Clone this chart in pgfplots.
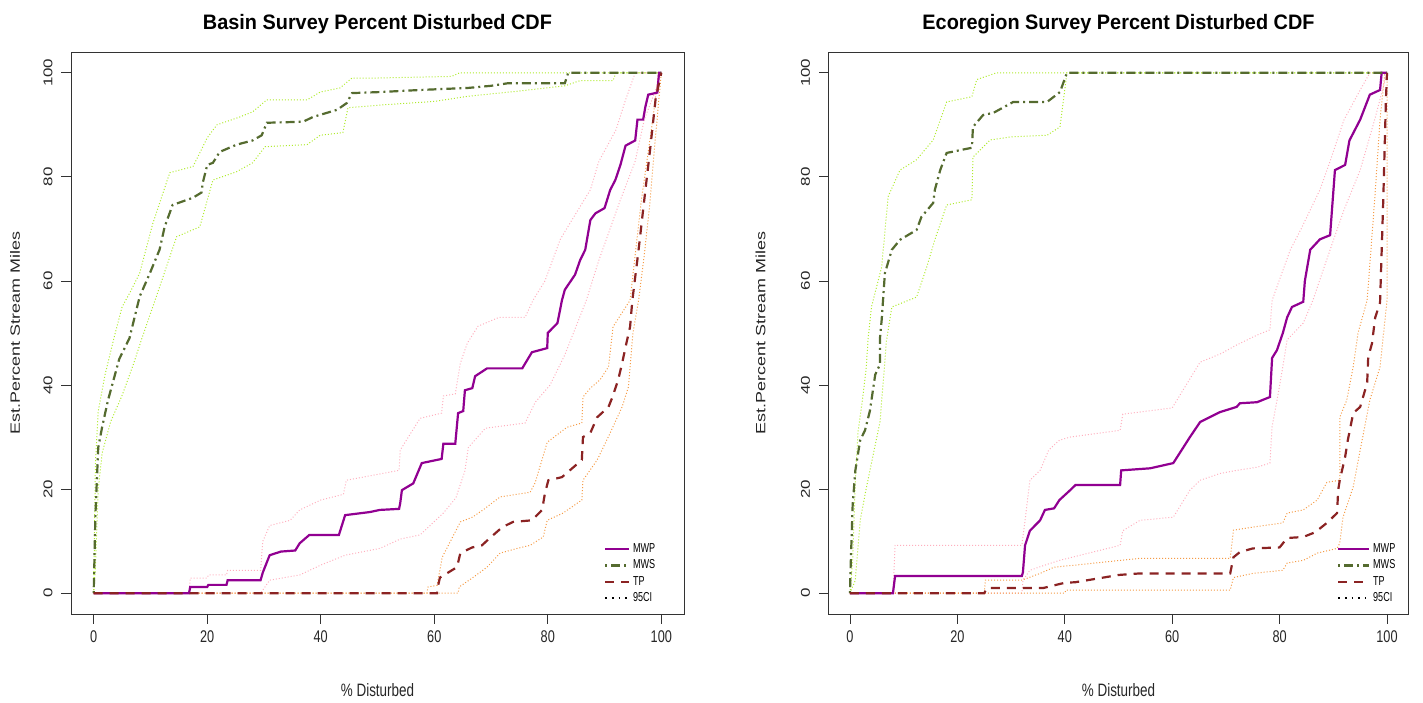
\documentclass[border=0pt]{standalone}
\usepackage{fontspec}
\setmainfont{Liberation Sans}
\usepackage{graphicx}
\usepackage{pgfplots}
\pgfplotsset{compat=1.18}
\usetikzlibrary{calc}

\definecolor{mwp}{RGB}{145,0,145}
\definecolor{mws}{RGB}{85,107,47}
\definecolor{tp}{RGB}{139,35,35}
\definecolor{mwsci}{RGB}{175,235,45}
\definecolor{mwpci}{RGB}{255,175,190}
\definecolor{tpci}{RGB}{245,155,70}

\newcommand\sq[1]{\scalebox{0.75}[1]{#1}}
\newcommand\sqv[1]{\scalebox{1}[0.75]{#1}}
\newcommand\lsq[1]{\scalebox{0.7}[1]{#1}}

\pgfplotsset{
 cdfaxis/.style={
  scale only axis, height=562bp,
  xmin=-4, xmax=104, ymin=-4, ymax=104,
  axis line style={black!80, line width=0.9bp},
  tick pos=left,
  major tick length=0pt,
  xtick={0,20,40,60,80,100}, ytick={0,20,40,60,80,100},
  xticklabels={\sq{0},\sq{20},\sq{40},\sq{60},\sq{80},\sq{100}},
  yticklabels={\sqv{0},\sqv{20},\sqv{40},\sqv{60},\sqv{80},\sqv{100}},
  ticklabel style={font=\fontsize{17}{17}\selectfont, text=black!85},
  xticklabel style={anchor=north},
  yticklabel style={xshift=-15bp, rotate=90, anchor=south},
  xticklabel shift=13bp,
  xlabel={\sq{\% Disturbed}},
  ylabel={\sqv{Est.Percent Stream Miles}},
  every axis x label/.style={at={(axis description cs:0.5,-0.135)}, anchor=center,
     font=\fontsize{18}{18}\selectfont, text=black!85},
  every axis title/.style={at={(axis description cs:0.5,1.05)}, anchor=center,
     font=\fontsize{21}{21}\selectfont\bfseries},
  legend style={draw=none, fill=none, inner sep=0pt, row sep=0pt,
    font=\fontsize{13}{13}\selectfont,
    nodes={text height=9bp, text depth=2bp, inner sep=2.6bp}},
  legend cell align=left,
 },
 main/.style={line width=2.2bp},
 ci/.style={line width=1bp, dash pattern=on 1bp off 2bp},
 mwpst/.style={main, mwp},
 mwsst/.style={main, mws, dash pattern=on 2bp off 4bp on 9bp off 4bp},
 tpst/.style={main, tp, dash pattern=on 9bp off 7bp},
}

\begin{document}
\begin{tikzpicture}
\path[use as bounding box] (0bp,0bp) rectangle (1423bp,703bp);

% ---------------- Left: Basin ----------------
\begin{axis}[cdfaxis, name=L, at={(71bp,89bp)}, anchor=south west, width=613bp,
  title={\scalebox{0.95}[1]{Basin Survey Percent Disturbed CDF}},
  every axis y label/.style={at={(axis description cs:-0.0914,0.5)}, anchor=center, rotate=90,
     font=\fontsize{18}{18}\selectfont, text=black!85},
  legend style={at={(0.8695,0.130)}, anchor=north west},
  legend image code/.code={\draw[#1] (0bp,0bp) -- (24bp,0bp);}]
% CIs
\addplot[ci, mwsci, forget plot] coordinates {(0,0)(0.3,25)(0.8,35)(2,42)(3.7,49.6)(5,55)(6.5,58)(8.1,61.5)(10.4,71)(13.4,80.8)(17.5,82)(20,87.5)(21.7,90)(25.7,91.5)(28,92.5)(30.5,94.8)(37.6,94.8)(39.9,96.3)(43.4,97.1)(45.5,99)(50,99)(63,99.3)(64.5,100)(100,100)};
\addplot[ci, mwsci, forget plot] coordinates {(0,0)(0.3,5)(0.8,20)(1.5,27)(3,33)(5,38)(7,44)(8.5,49)(11.6,58.8)(14.6,68.5)(18.7,70.4)(21,79.4)(25.2,81)(28,82.7)(30.2,85.8)(37.6,86.2)(39.9,88)(43.9,88.5)(44.8,93.3)(50.4,93.8)(60,94.5)(66,95.5)(75,96.5)(83,97.5)(85.7,98.5)(91.5,98.5)(92,100)(100,100)};
\addplot[ci, mwpci, forget plot] coordinates {(0,0)(16.8,0)(17,2.9)(20,2.9)(20.2,3.5)(23.4,3.5)(23.6,4.4)(29.4,4.4)(29.8,10)(31,13)(34.6,14)(36.3,16)(40,17.9)(44,19)(44.5,21.7)(53.8,23.6)(54,27.5)(57.5,33.6)(61.3,34.6)(61.6,37.9)(63.7,38.3)(64.6,44.2)(65.8,48)(67.7,51.3)(71.4,53)(76,53)(77.4,56.3)(79.5,60)(82.2,68)(84.8,72.7)(87.5,77.5)(89,83)(92,89)(93.7,94.8)(95.4,100)(100,100)};
\addplot[ci, mwpci, forget plot] coordinates {(0,0)(29.4,0)(29.8,0.6)(31,2.5)(36.3,3.5)(40,5.4)(44.3,7.3)(50.4,8.6)(54,10.4)(57.5,11.2)(61.6,15.4)(63.8,18.3)(65.4,23.5)(66,28)(69,31.7)(76,32.7)(77.8,36.7)(80.4,40)(83,45.8)(86.8,56.3)(89,64)(92.8,75.6)(95.4,83)(97,91)(99,96.7)(100,100)};
\addplot[ci, tpci, forget plot] coordinates {(0,0)(58.7,0)(58.9,1.2)(60.5,1.5)(61.4,6.9)(64.6,13.7)(66.7,14.6)(68.6,16)(71.6,18.5)(76.9,19.4)(77.8,21.3)(79.9,29)(83.4,31.9)(86,32.7)(86.2,37.7)(87.5,39.4)(89.2,41)(90.7,43.5)(91.5,51.2)(94.5,56.3)(96.5,75.6)(98.5,91)(99.5,100)(100,100)};
\addplot[ci, tpci, forget plot] coordinates {(0,0)(64.2,0)(64.4,1.2)(66.8,3)(69.3,5)(71.6,7.7)(74.6,8.6)(76.9,9.2)(79.2,10.8)(79.9,14)(82.7,15.4)(86,17.9)(86.2,21.7)(88.7,25.6)(91,30.8)(93.1,35.8)(94.2,39.6)(95,50)(96,56.3)(97,65)(98,75)(99,88)(100,100)};
% main lines
\addplot[mwpst] coordinates {(0,0)(16.8,0)(17,1.2)(20,1.2)(20.2,1.6)(23.4,1.6)(23.6,2.5)(29.4,2.5)(29.8,4)(31,7.3)(33,8)(35.5,8.2)(36.3,9.6)(38,11.2)(43.2,11.2)(44.3,15)(48.7,15.6)(50.4,16)(53.8,16.2)(54,17.3)(54.3,19.8)(56.3,21.1)(57.8,25)(61.3,25.8)(61.6,28.7)(63.7,28.7)(64.2,34.6)(65.1,35)(65.4,39)(66.7,39.4)(67.2,41.7)(69.3,43.2)(75.5,43.2)(77.2,46.3)(79.9,47.1)(80,50)(81.7,51.9)(82.5,56.3)(83,58.3)(84.8,61.2)(85.7,64)(86.6,66)(87.5,71.7)(88.4,73)(90,74)(91,77.5)(91.9,79.4)(92.8,82.3)(93.7,86)(95.4,87)(95.8,91)(96.8,91)(97.2,93.5)(97.7,95.8)(99.3,96.2)(99.6,100)(100,100)};
\addlegendentry{\lsq{MWP}}
\addplot[mwsst] coordinates {(0,0)(0.3,15)(0.8,28)(1.5,32)(2.5,37)(3.5,41)(4.5,45)(6.3,49)(8.1,57)(9.9,61.5)(11.6,66)(12.5,70.4)(13.9,74.6)(17.5,76)(19,77)(19.2,78.8)(20,82.3)(21,82.7)(22.2,84.8)(25.2,86.2)(28,87)(29.6,88)(30.5,90.4)(36.9,90.6)(38.6,91.5)(42.9,92.9)(44.6,94.2)(45.5,96.1)(50.4,96.3)(57.5,96.7)(66,97.1)(70,97.5)(73,98)(83,98)(83.6,100)(100,100)};
\addlegendentry{\lsq{MWS}}
\addplot[tpst] coordinates {(0,0)(60.5,0)(60.5,0.6)(61,3)(64,5)(64.6,7.7)(66.7,8.8)(68.4,9.2)(69.8,10.6)(72,12.7)(73.9,13.7)(77.2,14)(79,16)(79.5,19.2)(80.1,21.7)(82.5,22.3)(86,25.6)(86.2,30)(87.5,30.8)(88.7,33.8)(90.7,35.8)(91.4,37.7)(92.4,41)(93.1,44.2)(93.7,47.3)(94.5,51.2)(94.9,56.3)(96,66)(97,75.6)(98,85)(99,95)(100,100)};
\addlegendentry{\lsq{TP}}
\addlegendimage{black, line width=1.6bp, dash pattern=on 1.6bp off 5bp}
\addlegendentry{\lsq{95CI}}
\end{axis}

% ---------------- Right: Ecoregion ----------------
\begin{axis}[cdfaxis, name=R, at={(828.5bp,89bp)}, anchor=south west, width=580bp,
  title={\scalebox{0.95}[1]{Ecoregion Survey Percent Disturbed CDF}},
  every axis y label/.style={at={(axis description cs:-0.117,0.5)}, anchor=center, rotate=90,
     font=\fontsize{18}{18}\selectfont, text=black!85},
  legend style={at={(0.877,0.130)}, anchor=north west},
  legend image code/.code={\draw[#1] (0bp,0bp) -- (31bp,0bp);}]
\addplot[ci, mwsci, forget plot] coordinates {(0,0)(0.5,6.3)(1,21.7)(1.5,31)(2.3,37)(3,43)(3.4,49.2)(4,55)(5.9,62.7)(7.1,76.2)(9.3,81.3)(12.4,83.3)(15.5,87.1)(18,94.4)(22.7,95.4)(23.6,98.7)(27.3,100)(100,100)};
\addplot[ci, mwsci, forget plot] coordinates {(0,0)(1,2.5)(1.9,14)(3,20)(4.7,28.5)(5.6,33)(6.8,48.6)(7.8,55)(12.4,56.9)(14.3,62.7)(15.8,67.9)(18,74.6)(22.7,75.6)(22.9,83.8)(26.1,87.1)(30.1,87.7)(36.7,88)(39.1,89.6)(40.4,100)(100,100)};
\addplot[ci, mwpci, forget plot] coordinates {(0,0)(8,0)(8.4,9.2)(32,9.2)(32.6,14)(33.5,21.7)(35.4,23.6)(37,27.5)(39,29.4)(41,30)(50.3,31.3)(50.8,34.4)(60,35.6)(62,39)(65.2,44.4)(69,46)(72,47.7)(75.8,49.6)(78.2,50.6)(78.6,56.3)(82,66)(84,70)(87.5,77.5)(89.4,83)(92,91)(95,96.7)(96.8,100)(100,100)};
\addplot[ci, mwpci, forget plot] coordinates {(0,0)(32,0)(32.2,2.5)(33.5,4.4)(36.3,5.4)(39,6.3)(50.3,9.2)(50.8,12)(54,14)(60.2,14.6)(63.3,19.8)(65.2,21.7)(68.9,23)(72,23.6)(75.8,24.2)(78.2,25)(78.6,32)(79.5,37)(80.6,43.5)(81.4,48.7)(84.4,51.9)(86.2,56.3)(89.4,66)(92,73.7)(95,81.3)(97.7,91)(100,100)};
\addplot[ci, tpci, forget plot] coordinates {(0,0)(25,0)(25.2,2.5)(32,2.5)(35.4,3.8)(38,5)(42,5.4)(50.3,6.3)(54,6.7)(70.8,6.7)(71.4,12.1)(75,12.7)(80.6,13.5)(81.4,15.4)(84.4,16)(87,17.9)(88.8,21.3)(91.2,21.7)(91.2,33.8)(92.5,37.1)(93.7,43.5)(94.6,50)(96.3,56.3)(97.7,75.6)(98.7,91)(99.6,100)(100,100)};
\addplot[ci, tpci, forget plot] coordinates {(0,0)(40,0)(40.2,0.6)(70.8,0.6)(71.4,3)(75,3.8)(80.6,4.4)(81.4,5.8)(84.4,6.3)(87,7.7)(90.7,8.6)(91.2,9.6)(91.8,14.6)(93.7,20.4)(95,27.5)(96.8,37.1)(98.7,43.5)(100,56.3)(100,100)};
\addplot[mwpst] coordinates {(0,0)(8,0)(8.4,3.3)(32,3.3)(32.2,4)(32.6,9.2)(33.5,12)(35.4,14)(36.3,16)(38,16.3)(39,17.9)(41,19.8)(42,20.8)(50.3,20.8)(50.5,23.6)(55.9,24)(60.2,25)(63.3,30)(65.2,32.9)(68.9,34.8)(72,35.8)(72.6,36.5)(75.8,36.7)(78.2,37.7)(78.6,45.2)(79.5,46.7)(80.6,50)(81.4,53)(82.3,55)(84.4,56)(84.7,60)(85.7,66)(87.5,68)(89.4,68.8)(90.3,81.3)(92.2,82.3)(93,87)(95,91)(96.8,95.8)(98.7,96.7)(99,100)(100,100)};
\addlegendentry{\lsq{MWP}}
\addplot[mwsst] coordinates {(0,0)(0.1,4.4)(0.5,17)(1,23.6)(1.9,29.4)(2.8,31.3)(3.7,35)(4.7,42)(5.6,44)(5.6,49.2)(5.9,52.5)(6.5,61.5)(7.8,66)(9.3,67.9)(12.4,69.8)(13.3,72.3)(15.5,75)(15.8,77.5)(16.8,81.3)(18,84.6)(22.7,85.6)(22.9,89.6)(24.8,91.9)(26.7,92.3)(30.4,94.4)(36.7,94.4)(39.1,96.3)(40.4,100)(100,100)};
\addlegendentry{\lsq{MWS}}
\addplot[tpst] coordinates {(0,0)(25,0)(25.5,1)(36,1)(40,2)(41.9,2.1)(46.6,2.9)(50,3.5)(54,3.8)(70.8,3.8)(71.4,6.9)(72.6,7.9)(75,8.6)(80,8.8)(81.4,10.6)(84.4,10.8)(86.6,11.7)(88.8,13.5)(90.7,15.4)(90.9,19.8)(91.2,21.7)(92.2,26.2)(92.7,29.4)(93.7,34.6)(95,35.8)(96.3,40.4)(96.5,45.4)(97.2,48)(97.8,53)(98.7,55.8)(99.3,75.6)(99.8,95)(100,100)};
\addlegendentry{\lsq{TP}}
\addlegendimage{black, line width=1.6bp, dash pattern=on 1.6bp off 5bp}
\addlegendentry{\lsq{95CI}}
\end{axis}

% axis tick marks (outward, R style)
\foreach \ax in {L,R} {
  \foreach \t in {0,20,40,60,80,100} {
    \draw[black!80, line width=0.9bp] ($(\ax.south west)!{(\t+4)/108}!(\ax.south east)$) -- ++(0bp,-10bp);
    \draw[black!80, line width=0.9bp] ($(\ax.south west)!{(\t+4)/108}!(\ax.north west)$) -- ++(-10bp,0bp);
  }
}
\end{tikzpicture}
\end{document}
